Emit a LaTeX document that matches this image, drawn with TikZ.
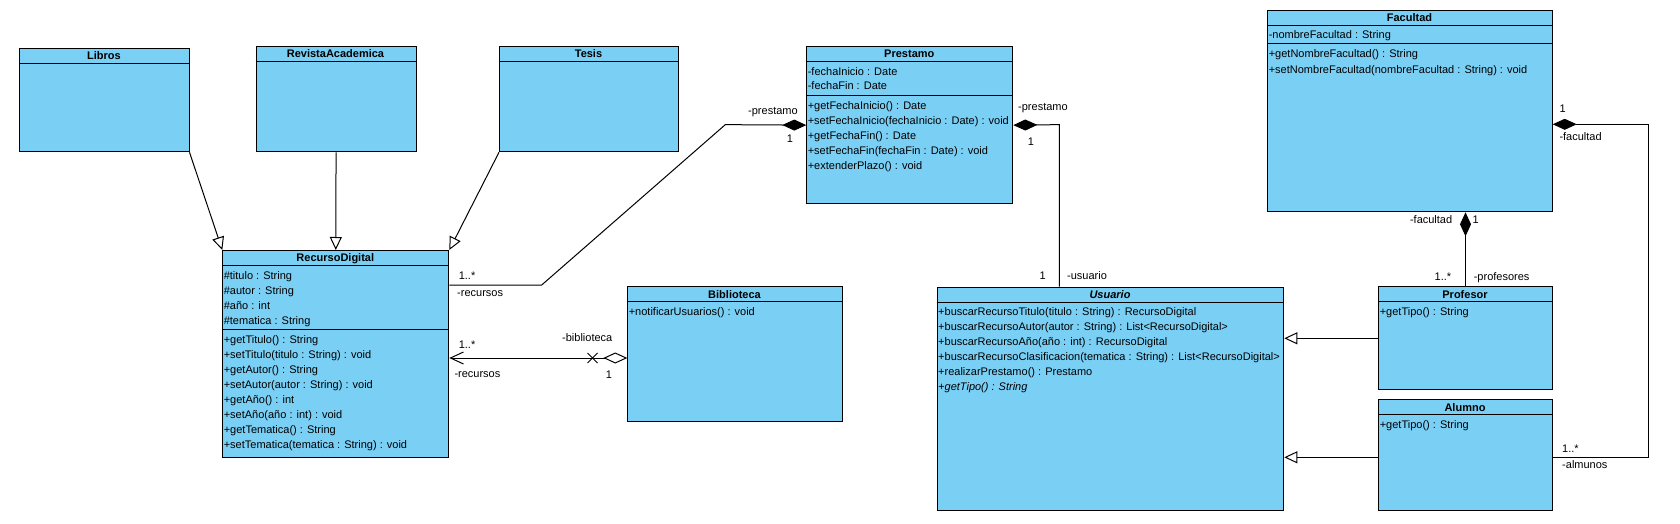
\documentclass[tikz,border=0pt]{standalone}
\usepackage{fontspec}
\setmainfont{Liberation Sans}
\usetikzlibrary{arrows.meta,shapes.misc}
\definecolor{vpblue}{RGB}{122,207,245}
\newcommand{\vpfont}{\fontsize{11}{13}\selectfont}

\begin{document}
\begin{tikzpicture}[x=1pt,y=-1pt,line width=1pt]
\tikzstyle{every node}+=[inner sep=0pt, font=\vpfont]
\tikzstyle{cls}=[draw=black, fill=vpblue, anchor=north west]
\tikzstyle{ttl}=[font=\vpfont\bfseries, anchor=base]
\tikzstyle{mem}=[anchor=base west]
\tikzstyle{lbl}=[anchor=base west]
\tikzstyle{gen}=[-{Triangle[open,length=13pt,width=12pt]}]
\tikzstyle{comp}=[{Diamond[length=24pt,width=11pt]}-]
\tikzstyle{agg}=[{Diamond[open,length=24pt,width=11pt]}-{Straight Barb[length=13pt,width=12pt]}]
\useasboundingbox (0,0) rectangle (1680,524);
\node [cls, minimum width=169.2pt, minimum height=103pt] (Lib) at (19.3,48.3) {};
\draw (19.3,63.3) -- (188.5,63.3);
\node [ttl] (libT) at (103.9,59.8) {Libros};
\node [cls, minimum width=160.1pt, minimum height=105pt] (Rev) at (255.5,46.3) {};
\draw (255.5,61.3) -- (415.6,61.3);
\node [ttl] (revT) at (335.5,57.8) {RevistaAcademica};
\node [cls, minimum width=179pt, minimum height=105pt] (Tes) at (499,46.3) {};
\draw (499,61.3) -- (678,61.3);
\node [ttl] (tesT) at (588.5,57.8) {Tesis};
\node [cls, minimum width=206pt, minimum height=156.7pt] (Pre) at (806.3,46.3) {};
\draw (806.3,61.7) -- (1012.3,61.7);
\draw (806.3,95.3) -- (1012.3,95.3);
\node [ttl] (preT) at (909.3,58) {Prestamo};
\node [mem] (preA1) at (807.3,75.3) {-fechaInicio : Date};
\node [mem] (preA2) at (807.3,90) {-fechaFin : Date};
\node [mem] (preM1) at (807.3,109.3) {+getFechaInicio() : Date};
\node [mem] (preM2) at (807.3,124.3) {+setFechaInicio(fechaInicio : Date) : void};
\node [mem] (preM3) at (807.3,139.3) {+getFechaFin() : Date};
\node [mem] (preM4) at (807.3,154.3) {+setFechaFin(fechaFin : Date) : void};
\node [mem] (preM5) at (807.3,169.3) {+extenderPlazo() : void};
\node [cls, minimum width=226pt, minimum height=207.3pt] (RD) at (222.3,250) {};
\draw (222.3,265.3) -- (448.3,265.3);
\draw (222.3,329.3) -- (448.3,329.3);
\node [ttl] (rdT) at (335.3,261.7) {RecursoDigital};
\node [mem] (rdA1) at (223.3,279) {\#titulo : String};
\node [mem] (rdA2) at (223.3,294) {\#autor : String};
\node [mem] (rdA3) at (223.3,309) {\#año : int};
\node [mem] (rdA4) at (223.3,324) {\#tematica : String};
\node [mem] (rdM1) at (223.3,343.3) {+getTitulo() : String};
\node [mem] (rdM2) at (223.3,358.3) {+setTitulo(titulo : String) : void};
\node [mem] (rdM3) at (223.3,373.3) {+getAutor() : String};
\node [mem] (rdM4) at (223.3,388.3) {+setAutor(autor : String) : void};
\node [mem] (rdM5) at (223.3,403.3) {+getAño() : int};
\node [mem] (rdM6) at (223.3,418.3) {+setAño(año : int) : void};
\node [mem] (rdM7) at (223.3,433.3) {+getTematica() : String};
\node [mem] (rdM8) at (223.3,448.3) {+setTematica(tematica : String) : void};
\node [cls, minimum width=214.4pt, minimum height=135pt] (Bib) at (627.3,286.3) {};
\draw (627.3,301.7) -- (841.7,301.7);
\node [ttl] (bibT) at (734.5,298) {Biblioteca};
\node [mem] (bibM1) at (628.3,315.7) {+notificarUsuarios() : void};
\node [cls, minimum width=346.6pt, minimum height=223.3pt] (Us) at (936.7,286.7) {};
\draw (936.7,302.3) -- (1283.3,302.3);
\node [ttl, font=\vpfont\bfseries\itshape] (usT) at (1110,298.5) {Usuario};
\node [mem] (usM1) at (937.7,315.7) {+buscarRecursoTitulo(titulo : String) : RecursoDigital};
\node [mem] (usM2) at (937.7,330.7) {+buscarRecursoAutor(autor : String) : List<RecursoDigital>};
\node [mem] (usM3) at (937.7,345.7) {+buscarRecursoAño(año : int) : RecursoDigital};
\node [mem] (usM4) at (937.7,360.7) {+buscarRecursoClasificacion(tematica : String) : List<RecursoDigital>};
\node [mem] (usM5) at (937.7,375.7) {+realizarPrestamo() : Prestamo};
\node [mem, font=\vpfont\itshape] (usM6) at (937.7,390.7) {+getTipo() : String};
\node [cls, minimum width=284.4pt, minimum height=201pt] (Fac) at (1267.3,10.3) {};
\draw (1267.3,25.3) -- (1551.7,25.3);
\draw (1267.3,44) -- (1551.7,44);
\node [ttl] (facT) at (1409.5,21.7) {Facultad};
\node [mem] (facA1) at (1268.3,39) {-nombreFacultad : String};
\node [mem] (facM1) at (1268.3,58) {+getNombreFacultad() : String};
\node [mem] (facM2) at (1268.3,73.3) {+setNombreFacultad(nombreFacultad : String) : void};
\node [cls, minimum width=173.4pt, minimum height=103pt] (Prof) at (1378.3,286.3) {};
\draw (1378.3,301.7) -- (1551.7,301.7);
\node [ttl] (profT) at (1465,298) {Profesor};
\node [mem] (profM1) at (1379.3,315.7) {+getTipo() : String};
\node [cls, minimum width=173.4pt, minimum height=110.7pt] (Alu) at (1378.3,399.3) {};
\draw (1378.3,414.7) -- (1551.7,414.7);
\node [ttl] (aluT) at (1465,411) {Alumno};
\node [mem] (aluM1) at (1379.3,428.3) {+getTipo() : String};
\coordinate (b1) at (725.3,124.65);
\coordinate (b2) at (541.7,285);
\coordinate (b3) at (1059.3,124.65);
\coordinate (b4) at (600,358);
\coordinate (b5) at (1648.3,124.3);
\coordinate (b6) at (1648.3,457.3);
\draw [gen] (Lib.south east) -- (RD.north west);
\draw [gen] (Rev.south) -- (RD.north);
\draw [gen] (Tes.south west) -- (RD.north east);
\draw [comp] (Pre.west) -- (b1) -- (b2) -- (b2 -| RD.east);
\draw [comp] (Pre.east) -- (b3) -- (b3 |- Us.north);
\draw [agg] (Bib.west |- b4) -- (RD.east |- b4);
\node [cross out, draw, minimum size=9pt] (bibX) at (592.5,358) {};
\draw [gen] (Prof.west) -- (Us.east |- Prof.west);
\draw [gen] (Alu.west |- b6) -- (Us.east |- b6);
\draw [comp] (Fac.south -| Prof.north) -- (Prof.north);
\draw [comp] (Fac.east |- b5) -- (b5) -- (b6) -- (Alu.east |- b6);
\node [lbl] (rdPreM) at (458.3,279) {1..*};
\node [lbl] (rdPreR) at (456.7,296.3) {-recursos};
\node [lbl] (preRdR) at (747.7,115) {-prestamo};
\node [anchor=base] (preRdM) at (790,142.3) {1};
\node [lbl] (preUsR) at (1017.7,110.7) {-prestamo};
\node [anchor=base] (preUsM) at (1031,145) {1};
\node [anchor=base] (usPreM) at (1042.7,279) {1};
\node [lbl] (usPreR) at (1066.7,279) {-usuario};
\node [lbl] (bibRdR) at (561.7,341.7) {-biblioteca};
\node [anchor=base] (bibRdM) at (609,378.3) {1};
\node [lbl] (rdBibM) at (458.3,348.3) {1..*};
\node [lbl] (rdBibR) at (454,377.3) {-recursos};
\node [anchor=base] (facAluM) at (1562.7,113) {1};
\node [lbl] (facAluR) at (1559,140) {-facultad};
\node [anchor=base east] (facProfR) at (1452.7,223) {-facultad};
\node [anchor=base] (facProfM) at (1475.7,223) {1};
\node [anchor=base east] (profFacM) at (1451.7,280.7) {1..*};
\node [lbl] (profFacR) at (1473.3,280.7) {-profesores};
\node [lbl] (aluFacM) at (1561.7,452.3) {1..*};
\node [lbl] (aluFacR) at (1561.7,468.3) {-almunos};
\end{tikzpicture}
\end{document}
